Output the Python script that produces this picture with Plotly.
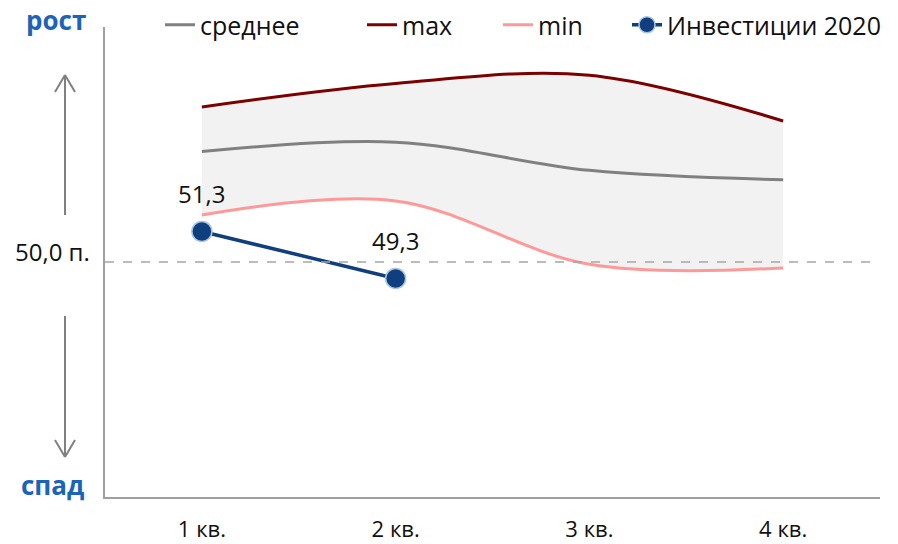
import plotly.graph_objects as go

categories = ["1 кв.", "2 кв.", "3 кв.", "4 кв."]
mean_vals = [54.7, 55.1, 53.9, 53.5]
max_vals = [56.6, 57.6, 57.95, 56.0]
min_vals = [52.0, 52.6, 49.9, 49.75]
inv_cats = ["1 кв.", "2 кв."]
inv_vals = [51.3, 49.3]
inv_labels = ["51,3", "49,3"]
baseline = 50.0

FONT = "Open Sans"
BLUE = "#0f3f7e"

fig = go.Figure()

# shaded band (fill only)
fig.add_trace(go.Scatter(x=categories, y=min_vals, mode="lines", line=dict(width=0, shape="spline"),
                         showlegend=False, hoverinfo="skip"))
fig.add_trace(go.Scatter(x=categories, y=max_vals, mode="lines", line=dict(width=0, shape="spline"),
                         fill="tonexty", fillcolor="#f2f2f2", showlegend=False, hoverinfo="skip"))

fig.add_trace(go.Scatter(x=categories, y=mean_vals, mode="lines", name="среднее", legend="legend",
                         line=dict(color="#808080", width=3, shape="spline")))
fig.add_trace(go.Scatter(x=categories, y=max_vals, mode="lines", name="max", legend="legend2",
                         line=dict(color="#7b0000", width=3, shape="spline")))
fig.add_trace(go.Scatter(x=categories, y=min_vals, mode="lines", name="min", legend="legend3",
                         line=dict(color="#ff9999", width=3, shape="spline")))
fig.add_trace(go.Scatter(x=inv_cats, y=inv_vals, mode="lines+markers", name="Инвестиции 2020", legend="legend4",
                         line=dict(color=BLUE, width=3.5),
                         marker=dict(size=20, color=BLUE, line=dict(color="#a9c4e0", width=1.5))))

for c, v, t in zip(inv_cats, inv_vals, inv_labels):
    fig.add_annotation(x=c, y=v, text=t, showarrow=False, yshift=38,
                       font=dict(family=FONT, size=24, color="#111111"))

L, R, T, B = 105, 18, 27, 47
W, H = 898, 544
pw, ph = W - L - R, H - T - B

def px(x):
    return (x - L) / pw

def py(y):
    return (H - B - y) / ph

shapes = []
# baseline dashed line
shapes.append(dict(type="line", xref="paper", yref="y", x0=0, x1=px(875), y0=baseline, y1=baseline,
                   line=dict(color="#a6a6a6", width=1.5, dash="dash"), layer="above"))
# arrows
arrow_line = dict(color="#808080", width=2)
for seg in [((65, 215), (65, 75)), ((55, 92), (65, 75)), ((75, 92), (65, 75)),
            ((65, 316), (65, 457)), ((55, 440), (65, 457)), ((75, 440), (65, 457))]:
    (x0, y0), (x1, y1) = seg
    shapes.append(dict(type="line", xref="paper", yref="paper", x0=px(x0), y0=py(y0), x1=px(x1), y1=py(y1),
                       line=arrow_line))
fig.update_layout(shapes=shapes)

fig.add_annotation(xref="paper", yref="paper", x=px(56), y=py(20), xanchor="center", yanchor="middle",
                   text="<b>рост</b>", showarrow=False,
                   font=dict(family=FONT, size=26, color="#1a64b9"))
fig.add_annotation(xref="paper", yref="paper", x=px(52), y=py(485), xanchor="center", yanchor="middle",
                   text="<b>спад</b>", showarrow=False,
                   font=dict(family=FONT, size=26, color="#1a64b9"))
fig.add_annotation(xref="paper", yref="y", x=px(52), y=baseline, yshift=11, xanchor="center", yanchor="middle",
                   text="50,0 п.", showarrow=False,
                   font=dict(family=FONT, size=24, color="#111111"))

def leg(xpix):
    return dict(orientation="h", xref="container", yref="container", x=xpix / W, y=1 - 2 / H,
                xanchor="left", yanchor="top", font=dict(family=FONT, size=25),
                bgcolor="rgba(0,0,0,0)")

fig.update_layout(
    width=W, height=H,
    margin=dict(l=L, r=R, t=T, b=B, autoexpand=False),
    paper_bgcolor="white", plot_bgcolor="white",
    font=dict(family=FONT, size=24, color="#111111"),
    legend=leg(160), legend2=leg(362), legend3=leg(498), legend4=leg(627),
    xaxis=dict(range=[-0.5, 3.5], showgrid=False, showline=True, linecolor="#a0a0a0", linewidth=1.5,
               ticks="", ticklabelstandoff=12, tickfont=dict(family=FONT, size=22), zeroline=False,
               fixedrange=True),
    yaxis=dict(range=[40, 60], showgrid=False, showline=True, linecolor="#a0a0a0", linewidth=1.5,
               showticklabels=False, ticks="", zeroline=False, fixedrange=True),
    showlegend=True,
)

fig.write_html("out.html", config={"displayModeBar": False},
               post_script="document.body.style.margin='0';document.body.style.overflow='hidden';")
